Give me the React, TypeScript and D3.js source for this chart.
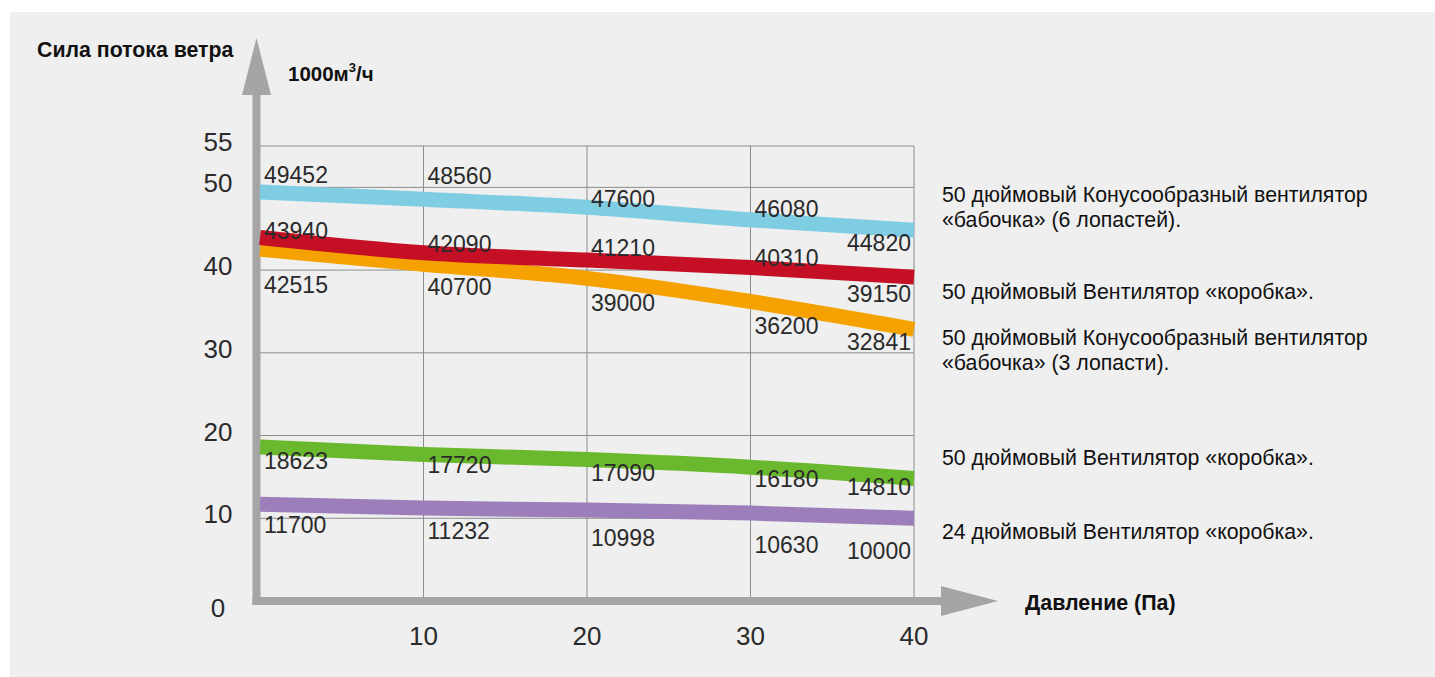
import React, { useEffect, useRef } from 'react';
import * as d3 from 'd3';

// Давление, Па
const pressure = [0, 10, 20, 30, 40];

// Расход воздуха, м3/ч
const cone6Fan50 = [49452, 48560, 47600, 46080, 44820];
const boxFan50a = [43940, 42090, 41210, 40310, 39150];
const cone3Fan50 = [42515, 40700, 39000, 36200, 32841];
const boxFan50b = [18623, 17720, 17090, 16180, 14810];
const boxFan24 = [11700, 11232, 10998, 10630, 10000];

const yTicks = [0, 10, 20, 30, 40, 50, 55];
const xTicks = [10, 20, 30, 40];

const legendCone6 = ['50 дюймовый Конусообразный вентилятор', '«бабочка» (6 лопастей).'];
const legendBox50 = ['50 дюймовый Вентилятор «коробка».'];
const legendCone3 = ['50 дюймовый Конусообразный вентилятор', '«бабочка» (3 лопасти).'];
const legendBox24 = ['24 дюймовый Вентилятор «коробка».'];

// порядок отрисовки: нижние слои первыми
const series = [
  { values: cone6Fan50, color: '#7ecde3', legend: legendCone6, legendY: 195, dy: [-17, -23, -8, -11, 13] },
  { values: cone3Fan50, color: '#f5a100', legend: legendCone3, legendY: 338, dy: [36, 23, 25, 24, 13] },
  { values: boxFan50a, color: '#c50f24', legend: legendBox50, legendY: 292, dy: [-7, -9, -12, -10, 17] },
  { values: boxFan50b, color: '#6ab82d', legend: legendBox50, legendY: 458, dy: [14, 11, 13, 12, 8] },
  { values: boxFan24, color: '#9c7fba', legend: legendBox24, legendY: 532, dy: [21, 23, 28, 32, 33] },
];

const FONT = '"Liberation Sans", Arial, Helvetica, sans-serif';

export default function App() {
  const svgRef = useRef<SVGSVGElement>(null);

  useEffect(() => {
    if (!svgRef.current) return;
    const svg = d3.select(svgRef.current);
    svg.selectAll('*').remove();

    const W = 1435;
    const H = 677;
    svg.attr('width', W).attr('height', H).style('font-family', FONT);

    // фон
    svg.append('rect').attr('width', W).attr('height', H).attr('fill', '#ffffff');
    svg.append('rect').attr('x', 10).attr('y', 12).attr('width', W - 10).attr('height', H - 12).attr('fill', '#efefef');

    const x = d3.scaleLinear().domain([0, 40]).range([260, 914]);
    const y = d3.scaleLinear().domain([0, 55]).range([601, 146]);

    // сетка
    const grid = svg.append('g').attr('stroke', '#8c8c8c').attr('stroke-width', 1);
    grid.selectAll('.h')
      .data(yTicks.filter(t => t > 0))
      .join('line')
      .attr('x1', x(0))
      .attr('x2', x(40))
      .attr('y1', d => y(d))
      .attr('y2', d => y(d));
    grid.selectAll('.v')
      .data(xTicks)
      .join('line')
      .attr('x1', d => x(d))
      .attr('x2', d => x(d))
      .attr('y1', y(55))
      .attr('y2', y(0));

    // оси со стрелками
    const axisColor = '#a5a5a5';
    svg.append('line')
      .attr('x1', 256.5).attr('x2', 256.5)
      .attr('y1', 94).attr('y2', y(0) + 4)
      .attr('stroke', axisColor).attr('stroke-width', 8);
    svg.append('path')
      .attr('d', 'M242,95 L256.5,38 L271,95 Z')
      .attr('fill', axisColor);
    svg.append('line')
      .attr('x1', 252.5).attr('x2', 942)
      .attr('y1', y(0)).attr('y2', y(0))
      .attr('stroke', axisColor).attr('stroke-width', 8);
    svg.append('path')
      .attr('d', `M941,${y(0) - 15} L998,${y(0)} L941,${y(0) + 15} Z`)
      .attr('fill', axisColor);

    // подписи осей
    svg.selectAll('.ytick')
      .data(yTicks)
      .join('text')
      .attr('x', 218)
      .attr('y', d => (d === 0 ? y(d) + 7 : y(d) - 4))
      .attr('dy', '0.35em')
      .attr('text-anchor', 'middle')
      .attr('font-size', 26)
      .attr('fill', '#2a2a2a')
      .text(d => d);

    svg.selectAll('.xtick')
      .data(xTicks)
      .join('text')
      .attr('x', d => x(d))
      .attr('y', 636)
      .attr('dy', '0.35em')
      .attr('text-anchor', 'middle')
      .attr('font-size', 26)
      .attr('fill', '#2a2a2a')
      .text(d => d);

    svg.append('text')
      .attr('x', 37).attr('y', 50).attr('dy', '0.35em')
      .attr('font-size', 21.3).attr('font-weight', 'bold').attr('fill', '#111')
      .text('Сила потока ветра');

    const unit = svg.append('text')
      .attr('x', 288).attr('y', 74).attr('dy', '0.35em')
      .attr('font-size', 20.5).attr('font-weight', 'bold').attr('fill', '#111');
    unit.append('tspan').text('1000м');
    unit.append('tspan').attr('font-size', 13).attr('dy', '-0.7em').text('3');
    unit.append('tspan').attr('dy', '0.45em').text('/ч');

    svg.append('text')
      .attr('x', 1025).attr('y', 603).attr('dy', '0.35em')
      .attr('font-size', 21.4).attr('font-weight', 'bold').attr('fill', '#111')
      .text('Давление (Па)');

    // линии
    const line = d3.line<number>()
      .x((_, i) => x(pressure[i]))
      .y(d => y(d / 1000))
      .curve(d3.curveMonotoneX);

    series.forEach(s => {
      svg.append('path')
        .datum(s.values)
        .attr('d', line)
        .attr('fill', 'none')
        .attr('stroke', s.color)
        .attr('stroke-width', 15);
    });

    // подписи значений
    series.forEach(s => {
      svg.append('g')
        .selectAll('text')
        .data(s.values)
        .join('text')
        .attr('x', (_, i) => (i === s.values.length - 1 ? x(pressure[i]) - 3 : x(pressure[i]) + 4))
        .attr('y', (d, i) => y(d / 1000) + s.dy[i])
        .attr('dy', '0.35em')
        .attr('text-anchor', (_, i) => (i === s.values.length - 1 ? 'end' : 'start'))
        .attr('font-size', 23)
        .attr('fill', '#2a2a2a')
        .text(d => d);
    });

    // легенда
    series.forEach(s => {
      const t = svg.append('text')
        .attr('x', 942)
        .attr('y', s.legendY)
        .attr('dy', '0.35em')
        .attr('font-size', 21.3)
        .attr('fill', '#111');
      s.legend.forEach((ln, i) => {
        t.append('tspan').attr('x', 942).attr('dy', i === 0 ? '0.35em' : 24.5).text(ln);
      });
    });
  }, []);

  return (
    <div style={{ position: 'absolute', left: 0, top: 0, width: 1435, height: 677 }}>
      <svg ref={svgRef} style={{ display: 'block' }} />
    </div>
  );
}
